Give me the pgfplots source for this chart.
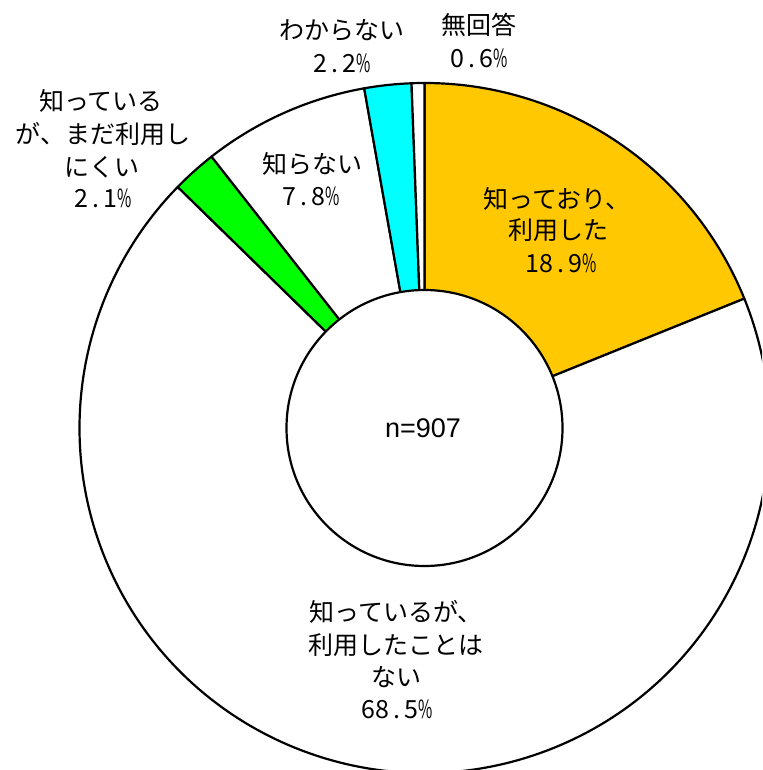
\documentclass[border=0pt]{standalone}
\usepackage{graphicx}
\usepackage{fontspec}
\setmainfont{Noto Sans CJK JP}
\newfontfamily\arialf{Liberation Sans}
\usepackage{pgfplots}
\pgfplotsset{compat=1.18}
\definecolor{cOrange}{RGB}{255,200,0}
\definecolor{cGreen}{RGB}{0,255,0}
\definecolor{cCyan}{RGB}{0,255,255}
\newcommand\dg[1]{\ifx#1\%\makebox[14.3pt][c]{\scalebox{0.62}[1]{\%}}\else\makebox[14.3pt][c]{#1}\fi}
\def\mono#1{\monoA#1\relax}
\def\monoA#1{\ifx#1\relax\else\dg{#1}\expandafter\monoA\fi}
% shares (%), clockwise from 12 o'clock
\def\vA{18.9}\def\vB{68.5}\def\vC{2.1}\def\vD{7.8}\def\vE{2.2}\def\vF{0.6}
\pgfmathsetmacro\tot{\vA+\vB+\vC+\vD+\vE+\vF}
\pgfmathsetmacro\aA{90-(\vA)/\tot*360}
\pgfmathsetmacro\aB{90-(\vA+\vB)/\tot*360}
\pgfmathsetmacro\aC{90-(\vA+\vB+\vC)/\tot*360}
\pgfmathsetmacro\aD{90-(\vA+\vB+\vC+\vD)/\tot*360}
\pgfmathsetmacro\aE{90-(\vA+\vB+\vC+\vD+\vE)/\tot*360}
\pgfmathsetmacro\aF{-270}
\begin{document}%
\begin{tikzpicture}
\begin{axis}[hide axis, scale only axis, width=762pt, height=770pt,
  xmin=0, xmax=762, ymin=0, ymax=770, y dir=reverse, clip=true]
\def\R{345pt}
\tikzset{wedge/.style={draw=black, line width=2.2pt, line join=round}}
\filldraw[wedge, fill=cOrange] (axis cs:424.5,428) -- ++(90:\R) arc[start angle=90, end angle=\aA, radius=\R] -- cycle;
\filldraw[wedge, fill=white] (axis cs:424.5,428) -- ++(\aA:\R) arc[start angle=\aA, end angle=\aB, radius=\R] -- cycle;
\filldraw[wedge, fill=cGreen] (axis cs:424.5,428) -- ++(\aB:\R) arc[start angle=\aB, end angle=\aC, radius=\R] -- cycle;
\filldraw[wedge, fill=white] (axis cs:424.5,428) -- ++(\aC:\R) arc[start angle=\aC, end angle=\aD, radius=\R] -- cycle;
\filldraw[wedge, fill=cCyan] (axis cs:424.5,428) -- ++(\aD:\R) arc[start angle=\aD, end angle=\aE, radius=\R] -- cycle;
\filldraw[wedge, fill=white] (axis cs:424.5,428) -- ++(\aE:\R) arc[start angle=\aE, end angle=\aF, radius=\R] -- cycle;
\filldraw[wedge, fill=white] (axis cs:424.5,428) circle[radius=138pt];
\tikzset{lb/.style={anchor=base, inner sep=0pt, font=\fontsize{25}{30}\selectfont}}
% labels
\node[lb] at (axis cs:557,208) {知っており、};
\node[lb] at (axis cs:558,239) {利用した};
\node[lb] at (axis cs:561,272) {\mono{18.9\%}};
\node[lb] at (axis cs:396,621) {知っているが、};
\node[lb] at (axis cs:396,654) {利用したことは};
\node[lb] at (axis cs:396,686) {ない};
\node[lb] at (axis cs:397,718) {\mono{68.5\%}};
\node[lb] at (axis cs:312,173) {知らない};
\node[lb] at (axis cs:311,205) {\mono{7.8\%}};
\node[lb] at (axis cs:101,111) {知っている};
\node[lb] at (axis cs:103,144) {が、まだ利用し};
\node[lb] at (axis cs:102,176) {にくい};
\node[lb] at (axis cs:103,207) {\mono{2.1\%}};
\node[lb] at (axis cs:342,40) {わからない};
\node[lb] at (axis cs:342,73) {\mono{2.2\%}};
\node[lb] at (axis cs:479,35) {無回答};
\node[lb] at (axis cs:479,68) {\mono{0.6\%}};
\node[anchor=base, inner sep=0pt, font=\arialf\fontsize{27}{30}\selectfont] at (axis cs:423,437) {n=907};
\end{axis}
\pgfresetboundingbox
\path (current axis.south west) rectangle (current axis.north east);
\end{tikzpicture}%
\end{document}
